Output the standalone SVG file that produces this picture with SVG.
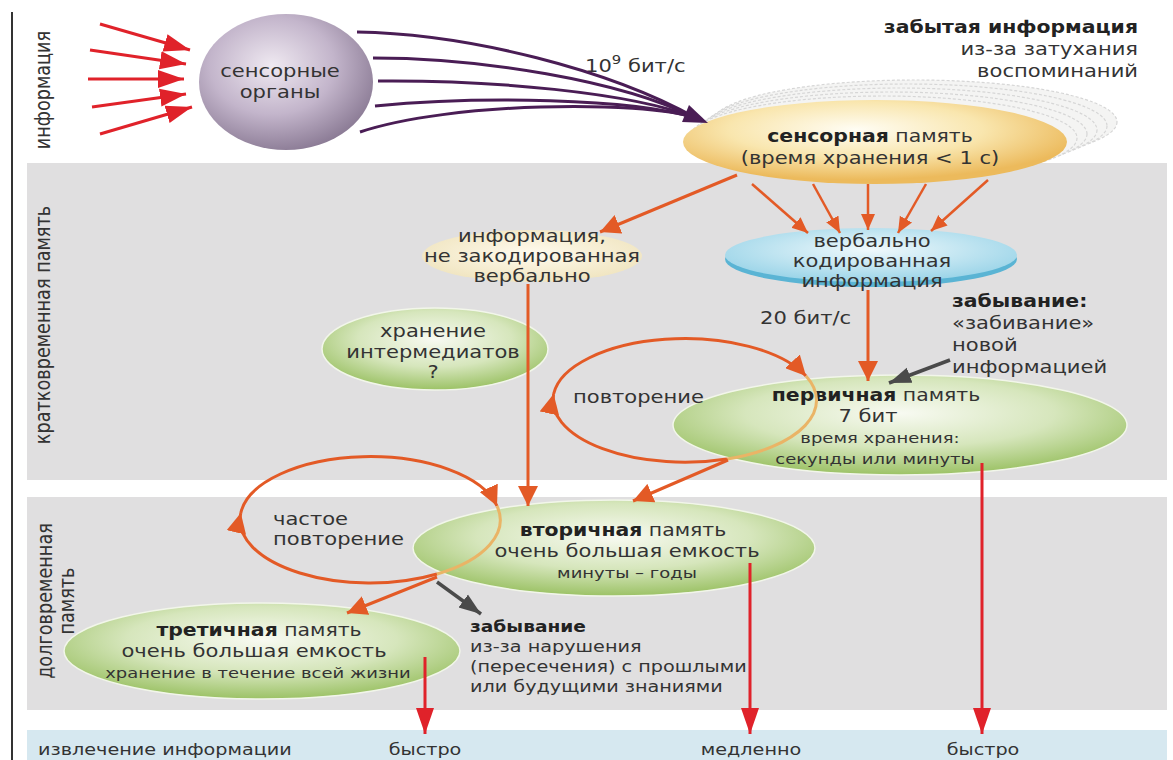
<svg xmlns="http://www.w3.org/2000/svg" width="1173" height="760" viewBox="0 0 1173 760">
<defs>
<style>
.t{font-family:"DejaVu Sans","Open Sans",sans-serif;font-size:17px;fill:#333}
.b{font-weight:700;fill:#222}
.s{font-size:14.5px}
.f{font-size:15.5px}
.m{text-anchor:middle}
.e{text-anchor:end}
.or{fill:none;stroke:#e35a26;stroke-width:3}
.orl{fill:none;stroke:#eab466;stroke-width:3}
.rd{fill:none;stroke:#e0222a;stroke-width:3}
.gr{fill:none;stroke:#4a4a4a;stroke-width:3.5}
.pu{fill:none;stroke:#4a1d55;stroke-width:3}
.green{fill:url(#gGreen);stroke:#f2f6ea;stroke-width:1.5}
.ghost{fill:#f4f4f3;stroke:#d6d6d6;stroke-width:1.2;stroke-dasharray:3 2}
</style>
<radialGradient id="gSphere" cx="0.42" cy="0.38" r="0.65">
<stop offset="0" stop-color="#efe9f1"/><stop offset="0.55" stop-color="#c3b5cb"/><stop offset="1" stop-color="#8a7a94"/>
</radialGradient>
<radialGradient id="gSens" cx="0.45" cy="0.35" r="0.6">
<stop offset="0" stop-color="#fffdf4"/><stop offset="0.55" stop-color="#f9e6ae"/><stop offset="1" stop-color="#ecba5c"/>
</radialGradient>
<radialGradient id="gCream" cx="0.5" cy="0.45" r="0.6">
<stop offset="0" stop-color="#fffbee"/><stop offset="1" stop-color="#efe3bd"/>
</radialGradient>
<radialGradient id="gBlue" cx="0.5" cy="0.4" r="0.6">
<stop offset="0" stop-color="#f0f9fc"/><stop offset="1" stop-color="#9ad4e8"/>
</radialGradient>
<radialGradient id="gGreen" cx="0.5" cy="0.38" r="0.62">
<stop offset="0" stop-color="#f8faf2"/><stop offset="0.55" stop-color="#d6e6bc"/><stop offset="1" stop-color="#9cc266"/>
</radialGradient>
<marker id="ao" markerUnits="userSpaceOnUse" markerWidth="22" markerHeight="20" refX="20" refY="10" orient="auto"><path d="M0,0 L20,10 L0,20 z" fill="#e35a26"/></marker>
<marker id="ao2" markerUnits="userSpaceOnUse" markerWidth="18" markerHeight="16" refX="16" refY="8" orient="auto"><path d="M0,1 L16,8 L0,15 z" fill="#e35a26"/></marker>
<marker id="ar" markerUnits="userSpaceOnUse" markerWidth="28" markerHeight="20" refX="26" refY="10" orient="auto"><path d="M0,1 L26,10 L0,19 z" fill="#e0222a"/></marker>
<marker id="ag" markerUnits="userSpaceOnUse" markerWidth="24" markerHeight="18" refX="22" refY="9" orient="auto"><path d="M0,1 L22,9 L0,17 z" fill="#4a4a4a"/></marker>
</defs>

<g id="background">
<rect x="0" y="0" width="1173" height="760" fill="#ffffff"/>
<rect x="27" y="163" width="1140" height="317" fill="#e0dfe0"/>
<rect x="27" y="497" width="1140" height="213" fill="#e0dfe0"/>
<rect x="27" y="730" width="1140" height="30" fill="#d6e8f0"/>
<line x1="12" y1="12" x2="12" y2="760" stroke="#333" stroke-width="2"/>
<text class="t" transform="translate(50,90) rotate(-90) scale(1.04,1.2)" text-anchor="middle">информация</text>
<text class="t" transform="translate(50,325) rotate(-90) scale(1.04,1.2)" text-anchor="middle">кратковременная память</text>
<text class="t" transform="translate(52,601) rotate(-90) scale(1.04,1.2)" text-anchor="middle">долговременная</text>
<text class="t" transform="translate(74,601) rotate(-90) scale(1.04,1.2)" text-anchor="middle">память</text>
<text class="t f" transform="translate(38,755) scale(1.24,1)">извлечение информации</text>
<text class="t m f" transform="translate(425,755) scale(1.24,1)">быстро</text>
<text class="t m f" transform="translate(751,755) scale(1.24,1)">медленно</text>
<text class="t m f" transform="translate(983,755) scale(1.24,1)">быстро</text>
</g>

<g id="node-sensory-organs">
<ellipse cx="286" cy="82" rx="87" ry="68" fill="url(#gSphere)"/>
<text class="t m" transform="translate(280,77) scale(1.24,1)">сенсорные</text>
<text class="t m" transform="translate(280,98) scale(1.24,1)">органы</text>
</g>

<g id="node-forgotten">
<text class="t e" transform="translate(1138,33) scale(1.2,1)"><tspan class="b">забытая информация</tspan></text>
<text class="t e" transform="translate(1138,55) scale(1.24,1)">из-за затухания</text>
<text class="t e" transform="translate(1138,77) scale(1.24,1)">воспоминаний</text>
</g>

<g id="node-sensory-memory">
<ellipse class="ghost" cx="915" cy="122" rx="202" ry="42"/>
<ellipse class="ghost" cx="907" cy="126" rx="200" ry="42"/>
<ellipse class="ghost" cx="899" cy="130" rx="198" ry="42"/>
<ellipse class="ghost" cx="891" cy="134" rx="196" ry="42"/>
<ellipse class="ghost" cx="883" cy="138" rx="194" ry="42"/>
<ellipse cx="875" cy="142" rx="192" ry="42" fill="url(#gSens)"/>
<text class="t m" transform="translate(870,142) scale(1.2,1)"><tspan class="b">сенсорная</tspan> память</text>
<text class="t m" transform="translate(870,164) scale(1.24,1)">(время хранения &lt; 1 с)</text>
</g>

<g id="node-nonverbal">
<ellipse cx="532" cy="256" rx="110" ry="26" fill="url(#gCream)"/>
<text class="t m" transform="translate(532,242) scale(1.24,1)">информация,</text>
<text class="t m" transform="translate(532,262) scale(1.24,1)">не закодированная</text>
<text class="t m" transform="translate(532,282) scale(1.24,1)">вербально</text>
</g>

<g id="node-verbal">
<ellipse cx="871" cy="259" rx="146" ry="28" fill="#5ab4d4"/>
<ellipse cx="871" cy="255" rx="146" ry="27" fill="url(#gBlue)"/>
<text class="t m" transform="translate(872,247) scale(1.24,1)">вербально</text>
<text class="t m" transform="translate(872,267) scale(1.24,1)">кодированная</text>
<text class="t m" transform="translate(872,287) scale(1.24,1)">информация</text>
</g>

<g id="node-intermediates">
<ellipse class="green" cx="435" cy="349" rx="113" ry="41"/>
<text class="t m" transform="translate(433,337) scale(1.24,1)">хранение</text>
<text class="t m" transform="translate(433,358) scale(1.24,1)">интермедиатов</text>
<text class="t m" transform="translate(433,378) scale(1.24,1)">?</text>
</g>

<g id="node-primary">
<ellipse class="green" cx="900" cy="425" rx="227" ry="50"/>
<text class="t m" transform="translate(876,401) scale(1.2,1)"><tspan class="b">первичная</tspan> память</text>
<text class="t m" transform="translate(868,422) scale(1.24,1)">7 бит</text>
<text class="t m s" transform="translate(880,443) scale(1.24,1)">время хранения:</text>
<text class="t m s" transform="translate(875,464) scale(1.24,1)">секунды или минуты</text>
</g>

<g id="node-secondary">
<ellipse class="green" cx="614" cy="548" rx="201" ry="48"/>
<text class="t m" transform="translate(623,536) scale(1.2,1)"><tspan class="b">вторичная</tspan> память</text>
<text class="t m" transform="translate(627,557) scale(1.24,1)">очень большая емкость</text>
<text class="t m s" transform="translate(627,578) scale(1.24,1)">минуты – годы</text>
</g>

<g id="node-tertiary">
<ellipse class="green" cx="262" cy="651" rx="198" ry="48"/>
<text class="t m" transform="translate(259,636) scale(1.2,1)"><tspan class="b">третичная</tspan> память</text>
<text class="t m" transform="translate(254,657) scale(1.24,1)">очень большая емкость</text>
<text class="t m s" transform="translate(258,678) scale(1.24,1)">хранение в течение всей жизни</text>
</g>

<g id="node-labels">
<text class="t" transform="translate(585,72) scale(1.24,1)">10<tspan style="font-size:12px" dy="-8">9</tspan><tspan dy="8"> бит/с</tspan></text>
<text class="t" transform="translate(760,324) scale(1.24,1)">20 бит/с</text>
<text class="t" transform="translate(952,307) scale(1.2,1)"><tspan class="b">забывание:</tspan></text>
<text class="t" transform="translate(952,329) scale(1.24,1)">«забивание»</text>
<text class="t" transform="translate(952,351) scale(1.24,1)">новой</text>
<text class="t" transform="translate(952,373) scale(1.24,1)">информацией</text>
<text class="t" transform="translate(573,403) scale(1.24,1)">повторение</text>
<text class="t" transform="translate(273,525) scale(1.24,1)">частое</text>
<text class="t" transform="translate(273,545) scale(1.24,1)">повторение</text>
<text class="t f" transform="translate(470,632) scale(1.2,1)"><tspan class="b">забывание</tspan></text>
<text class="t f" transform="translate(470,652) scale(1.24,1)">из-за нарушения</text>
<text class="t f" transform="translate(470,672) scale(1.24,1)">(пересечения) с прошлыми</text>
<text class="t f" transform="translate(470,692) scale(1.24,1)">или будущими знаниями</text>
</g>

<g id="connectors">
<line class="rd" x1="100" y1="24" x2="190" y2="50" marker-end="url(#ar)"/>
<line class="rd" x1="90" y1="50" x2="186" y2="64" marker-end="url(#ar)"/>
<line class="rd" x1="88" y1="79" x2="184" y2="79" marker-end="url(#ar)"/>
<line class="rd" x1="92" y1="107" x2="186" y2="94" marker-end="url(#ar)"/>
<line class="rd" x1="100" y1="134" x2="192" y2="107" marker-end="url(#ar)"/>
<path class="pu" d="M357,32 C470,34 610,70 696,118"/>
<path class="pu" d="M373,58 C480,58 620,80 696,118"/>
<path class="pu" d="M378,81 C490,80 630,92 696,118"/>
<path class="pu" d="M375,106 C480,96 630,98 696,118"/>
<path class="pu" d="M360,132 C450,102 640,100 696,118"/>
<polygon points="708,123 682,122 689,105" fill="#4a1d55"/>
<line class="or" x1="737" y1="175" x2="600" y2="232" marker-end="url(#ao)"/>
<line class="or" style="stroke-width:2.5" x1="752" y1="184" x2="808" y2="233" marker-end="url(#ao2)"/>
<line class="or" style="stroke-width:2.5" x1="813" y1="184" x2="840" y2="233" marker-end="url(#ao2)"/>
<line class="or" style="stroke-width:2.5" x1="868" y1="184" x2="868" y2="230" marker-end="url(#ao2)"/>
<line class="or" style="stroke-width:2.5" x1="926" y1="184" x2="898" y2="233" marker-end="url(#ao2)"/>
<line class="or" style="stroke-width:2.5" x1="988" y1="180" x2="931" y2="231" marker-end="url(#ao2)"/>
<line class="or" x1="868" y1="290" x2="868" y2="381" marker-end="url(#ao)"/>
<line class="or" x1="528" y1="284" x2="528" y2="506" marker-end="url(#ao)"/>
<path class="or" d="M727,459 A132,62 0 0 1 553.6,394" marker-end="url(#ao)"/>
<path class="or" d="M553.6,394 A132,62 0 0 1 806,376" marker-end="url(#ao)"/>
<path class="orl" d="M806,376 A132,62 0 0 1 727,459"/>
<line class="or" x1="728" y1="460" x2="633" y2="501" marker-end="url(#ao)"/>
<path class="or" d="M437,574 A130,63 0 0 1 240.8,513" marker-end="url(#ao)"/>
<path class="or" d="M240.8,513 A130,63 0 0 1 497,506" marker-end="url(#ao)"/>
<path class="orl" d="M497,506 A130,63 0 0 1 437,574"/>
<line class="or" x1="437" y1="577" x2="347" y2="613" marker-end="url(#ao)"/>
<line class="gr" x1="950" y1="360" x2="889" y2="383" marker-end="url(#ag)"/>
<line class="gr" x1="437" y1="582" x2="481" y2="614" marker-end="url(#ag)"/>
<line class="rd" x1="425" y1="657" x2="425" y2="734" marker-end="url(#ar)"/>
<line class="rd" x1="750" y1="563" x2="750" y2="734" marker-end="url(#ar)"/>
<line class="rd" x1="982" y1="463" x2="982" y2="734" marker-end="url(#ar)"/>
</g>
</svg>
